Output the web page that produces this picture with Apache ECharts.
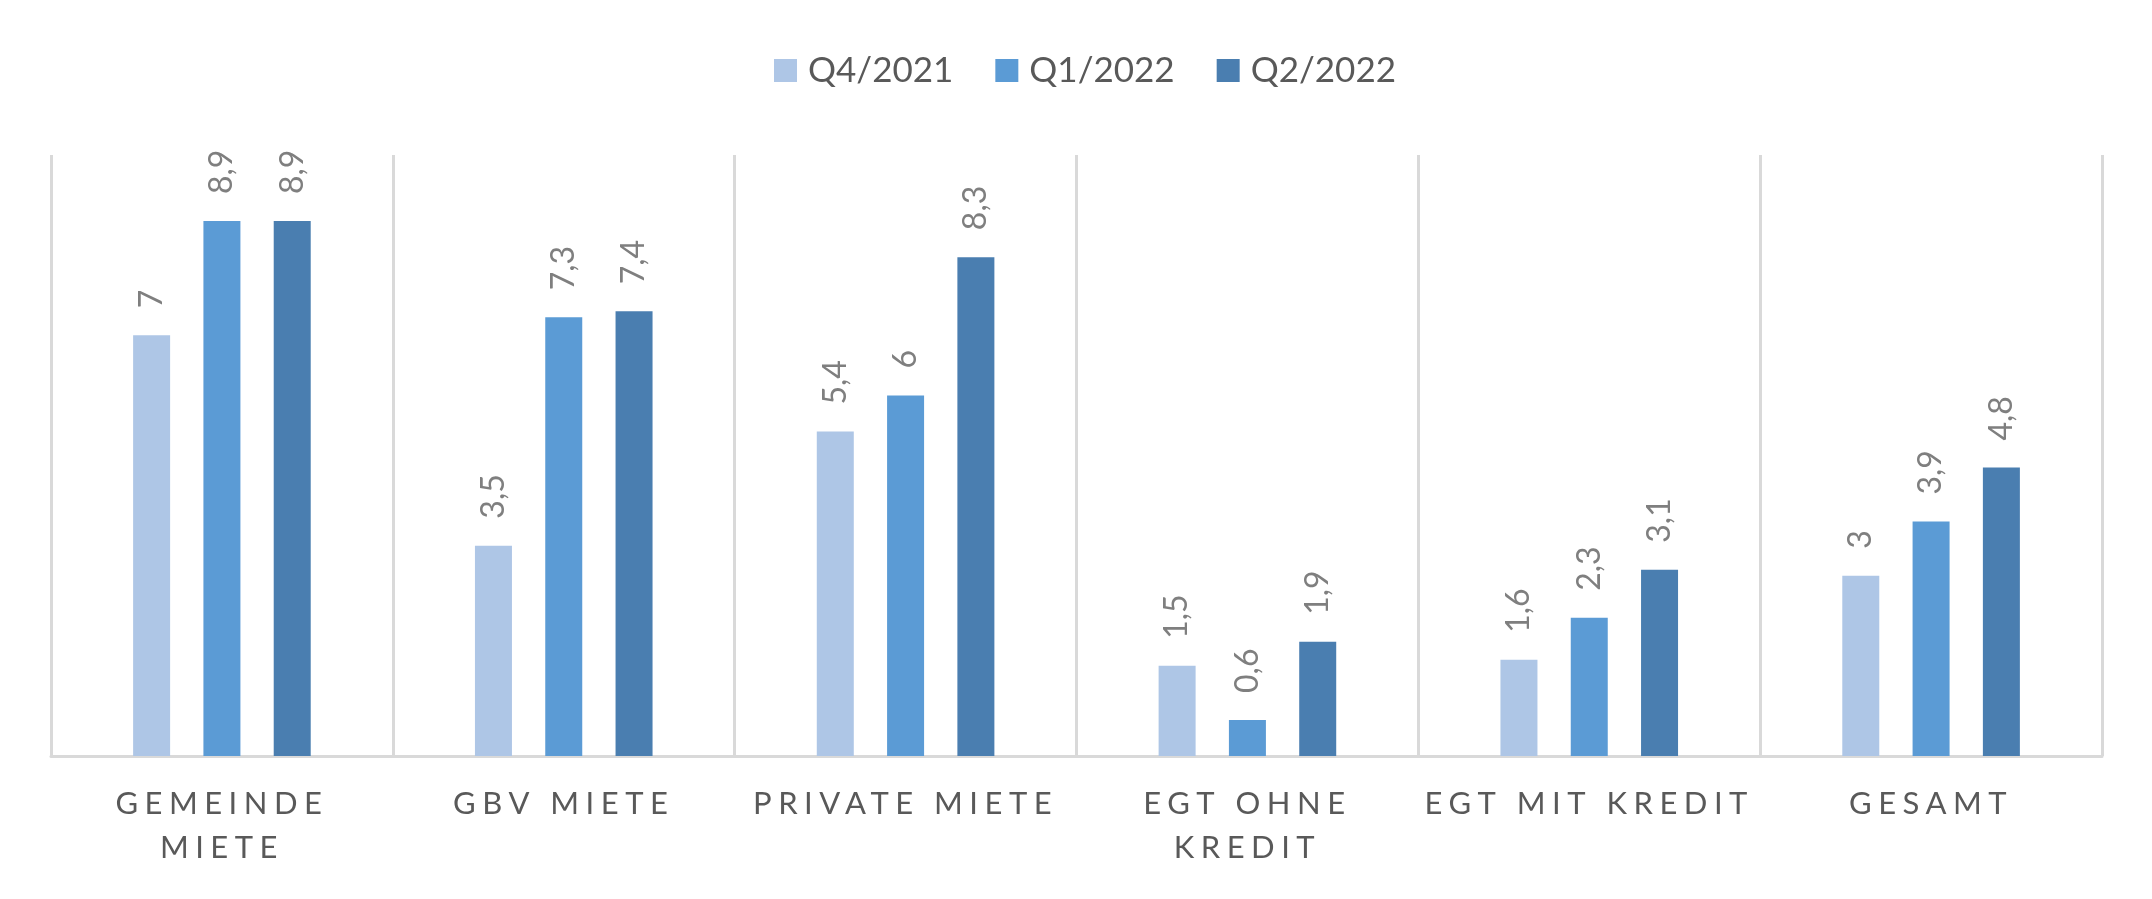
<!DOCTYPE html>
<html>
<head>
<meta charset="utf-8">
<script src="https://cdn.jsdelivr.net/npm/echarts@6/dist/echarts.min.js"></script>
<style>
html,body{margin:0;padding:0;background:#fff;}
#chart{width:2152px;height:899px;}
</style>
</head>
<body>
<div id="chart"></div>
<script>
// letter spacing for the category labels (font family marker "xspaced")
(function(){
  var d = Object.getOwnPropertyDescriptor(CanvasRenderingContext2D.prototype, 'font');
  if (!d || !d.set) return;
  Object.defineProperty(CanvasRenderingContext2D.prototype, 'font', {
    configurable: true,
    get: function(){ return d.get.call(this); },
    set: function(v){
      d.set.call(this, v);
      try { this.letterSpacing = /xspaced/.test(v) ? '6.5px' : '0px'; } catch(e) {}
    }
  });
})();

const categories = ["GEMEINDE\nMIETE", "GBV MIETE", "PRIVATE MIETE", "EGT OHNE\nKREDIT", "EGT MIT KREDIT", "GESAMT"];
const seriesNames = ["Q4/2021", "Q1/2022", "Q2/2022"];
const q4_2021 = [7, 3.5, 5.4, 1.5, 1.6, 3];
const q1_2022 = [8.9, 7.3, 6, 0.6, 2.3, 3.9];
const q2_2022 = [8.9, 7.4, 8.3, 1.9, 3.1, 4.8];
const colors = ["#AEC6E6", "#5B9BD5", "#4A7EB0"];

const chart = echarts.init(document.getElementById('chart'));
const fmt = p => String(p.value).replace('.', ',');
function mk(name, data, color) {
  return {
    name: name, type: 'bar', data: data,
    barWidth: 37, barGap: '90%',
    itemStyle: { color: color },
    label: {
      show: true, position: 'top', rotate: 90, align: 'left', verticalAlign: 'middle',
      distance: 27, formatter: fmt, color: '#7f7f7f', fontSize: 32, fontFamily: 'Lato'
    }
  };
}
chart.setOption({
  animation: false,
  backgroundColor: '#ffffff',
  legend: {
    data: seriesNames, left: 769, top: 48, itemWidth: 23, itemHeight: 23, itemGap: 42,
    icon: 'rect',
    textStyle: { color: '#595959', fontSize: 35, fontFamily: 'Lato', padding: [0,0,0,6] }
  },
  grid: { left: 51, right: 50, top: 155, bottom: 143 },
  xAxis: {
    type: 'category', data: categories,
    axisLine: { lineStyle: { color: '#d9d9d9', width: 3 } },
    axisTick: { show: false },
    splitLine: { show: true, lineStyle: { color: '#d9d9d9', width: 3 } },
    axisLabel: { color: '#595959', fontSize: 31, fontFamily: 'Lato, xspaced', lineHeight: 44, margin: 26, interval: 0 }
  },
  yAxis: { type: 'value', min: 0, max: 10, show: false, splitLine: { show: false } },
  series: [mk(seriesNames[0], q4_2021, colors[0]), mk(seriesNames[1], q1_2022, colors[1]), mk(seriesNames[2], q2_2022, colors[2])]
});
</script>
</body>
</html>
